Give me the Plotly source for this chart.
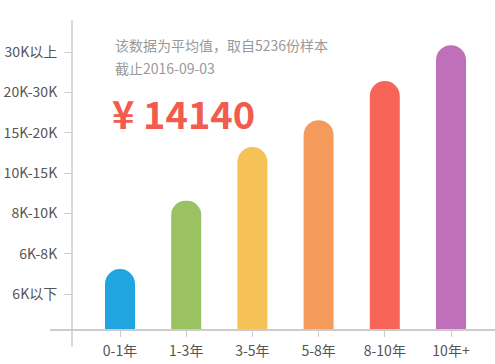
import plotly.graph_objects as go

# Data
categories = ["0-1年", "1-3年", "3-5年", "5-8年", "8-10年", "10年+"]
# bar heights expressed in salary-band units (1 = "6K以下" tick, 7 = "30K以上" tick)
levels = [1.62, 3.31, 4.645, 5.31, 6.28, 7.17]
band_labels = ["6K以下", "6K-8K", "8K-10K", "10K-15K", "15K-20K", "20K-30K", "30K以上"]
band_positions = [1, 2, 3, 4, 5, 6, 7]
bar_colors = ["#21a5e0", "#9ac262", "#f6c257", "#f49a5b", "#f76558", "#c070b9"]
average_salary = "14140"
note_line1 = "该数据为平均值，取自5236份样本"
note_line2 = "截止2016-09-03"

FONT = "Noto Sans CJK SC, Microsoft YaHei, sans-serif"

W, H = 495, 364
L, R, T, B = 50, 0, 20, 35
plot_w = W - L - R
plot_h = H - T - B

# x scale: category centers at 120px and 66.2 px apart
px_per_cat = 66.2
x0_px = 120
x_range = [(L - x0_px) / px_per_cat, (W - R - x0_px) / px_per_cat]
# y scale: tick 1 at 294px, 40.33 px per band
px_per_band = 40.33
y_range = [1 - (H - B - 294) / px_per_band, 1 + (294 - T) / px_per_band]

fig = go.Figure()
fig.add_trace(go.Bar(
    x=list(range(len(categories))),
    y=levels,
    marker=dict(color=bar_colors, line=dict(width=0)),
    width=30 / px_per_cat,
    showlegend=False,
    hoverinfo="skip",
))

yaxis_x_px = 72
fig.update_layout(
    width=W, height=H,
    margin=dict(l=L, r=R, t=T, b=B, pad=0),
    paper_bgcolor="white", plot_bgcolor="white",
    barcornerradius=15,
    font=dict(family=FONT, color="#555555", size=14),
    xaxis=dict(
        range=x_range,
        tickvals=list(range(len(categories))),
        ticktext=categories,
        showgrid=False, zeroline=False,
        showline=True, linecolor="#cccccc", linewidth=1.5,
        ticks="outside", ticklen=6, tickcolor="#cccccc", tickwidth=1,
        tickfont=dict(size=14, color="#555555"),
        ticklabelstandoff=2,
        fixedrange=True,
    ),
    yaxis=dict(
        range=y_range,
        tickvals=band_positions,
        ticktext=band_labels,
        anchor="free",
        position=(yaxis_x_px - L) / plot_w,
        showgrid=False, zeroline=False,
        showline=False,
        ticks="outside", ticklen=8, tickcolor="#cccccc", tickwidth=1,
        tickfont=dict(size=14, color="#555555"),
        ticklabelstandoff=4,
        fixedrange=True,
    ),
    shapes=[
        dict(type="line", xref="paper", yref="paper",
             x0=(yaxis_x_px - L) / plot_w, x1=(yaxis_x_px - L) / plot_w,
             y0=-(347 - (H - B)) / plot_h, y1=1,
             line=dict(color="#cccccc", width=1.5)),
    ],
    annotations=[
        dict(xref="paper", yref="paper", x=(113 - L) / plot_w, y=1 - (45 - T) / plot_h,
             xanchor="left", yanchor="middle", showarrow=False,
             text=note_line1, font=dict(size=14, color="#999999", family=FONT)),
        dict(xref="paper", yref="paper", x=(113 - L) / plot_w, y=1 - (68 - T) / plot_h,
             xanchor="left", yanchor="middle", showarrow=False,
             text=note_line2, font=dict(size=14, color="#999999", family=FONT)),
        dict(xref="paper", yref="paper", x=(110 - L) / plot_w, y=1 - (112 - T) / plot_h,
             xanchor="left", yanchor="middle", showarrow=False,
             text="<b>¥ " + average_salary + "</b>",
             font=dict(size=38, color="#f25c4d", family=FONT)),
    ],
)

fig.write_html("out.html")
